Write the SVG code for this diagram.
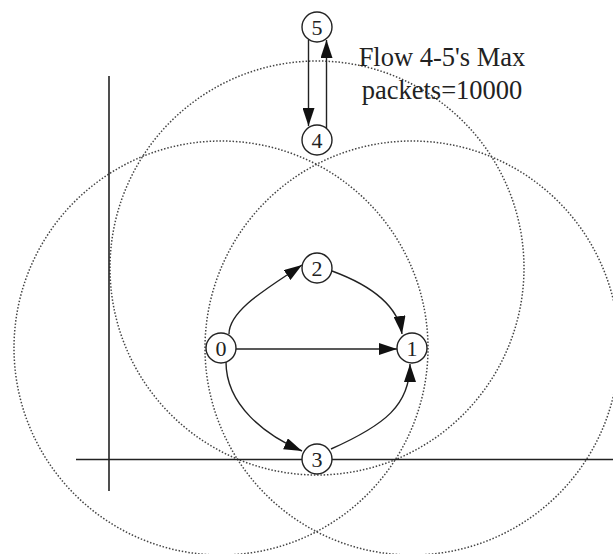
<svg xmlns="http://www.w3.org/2000/svg" width="613" height="554" viewBox="0 0 613 554">
<defs>
<style>
.range{fill:none;stroke:#444;stroke-width:1.5;stroke-dasharray:1.5 1.8}
.axis{fill:none;stroke:#222;stroke-width:1.6}
.edge{fill:none;stroke:#222;stroke-width:1.4;marker-end:url(#ah)}
.node circle{fill:#fff;stroke:#222;stroke-width:1.4}
.node text{font-family:"Liberation Serif","Times New Roman",serif;font-size:22px;fill:#222;text-anchor:middle}
.label{font-family:"Liberation Serif","Times New Roman",serif;font-size:26.5px;fill:#222;text-anchor:middle}
</style>
<marker id="ah" markerUnits="userSpaceOnUse" markerWidth="18" markerHeight="12" refX="18" refY="6" orient="auto">
<path d="M0,0 L18,6 L0,12 z" fill="#111"/>
</marker>
</defs>
<rect width="613" height="554" fill="#fff"/>
<g id="ranges">
<circle class="range" cx="221" cy="348" r="207"/>
<circle class="range" cx="412" cy="348" r="207"/>
<circle class="range" cx="317" cy="268" r="207"/>
</g>
<g id="axes">
<line class="axis" x1="109" y1="76" x2="109" y2="491"/>
<line class="axis" x1="76" y1="459.5" x2="613" y2="459.5"/>
</g>
<g id="connectors">
<path class="edge" d="M229,334 C229,310 268,288 302,265"/>
<path class="edge" d="M332,271 C370,285 398,305 402,334"/>
<path class="edge" d="M236,349 L397,349"/>
<path class="edge" d="M226,362 C226,405 265,435 302,451"/>
<path class="edge" d="M331,449 C385,425 410,405 410,364"/>
<path class="edge" d="M308.5,40 L308.5,126"/>
<path class="edge" d="M326.5,128 L326.5,40"/>
</g>
<g id="node5" class="node"><circle cx="317" cy="27" r="15"/><text x="317" y="35">5</text></g>
<g id="node4" class="node"><circle cx="317" cy="140" r="15"/><text x="317" y="148">4</text></g>
<g id="node2" class="node"><circle cx="317" cy="268" r="15"/><text x="317" y="276">2</text></g>
<g id="node0" class="node"><circle cx="221" cy="348" r="15"/><text x="221" y="356">0</text></g>
<g id="node1" class="node"><circle cx="412" cy="348" r="15"/><text x="412" y="356">1</text></g>
<g id="node3" class="node"><circle cx="317" cy="459" r="15"/><text x="317" y="467">3</text></g>
<g id="note">
<text class="label" x="442" y="66">Flow 4-5's Max</text>
<text class="label" x="442" y="99">packets=10000</text>
</g>
</svg>
